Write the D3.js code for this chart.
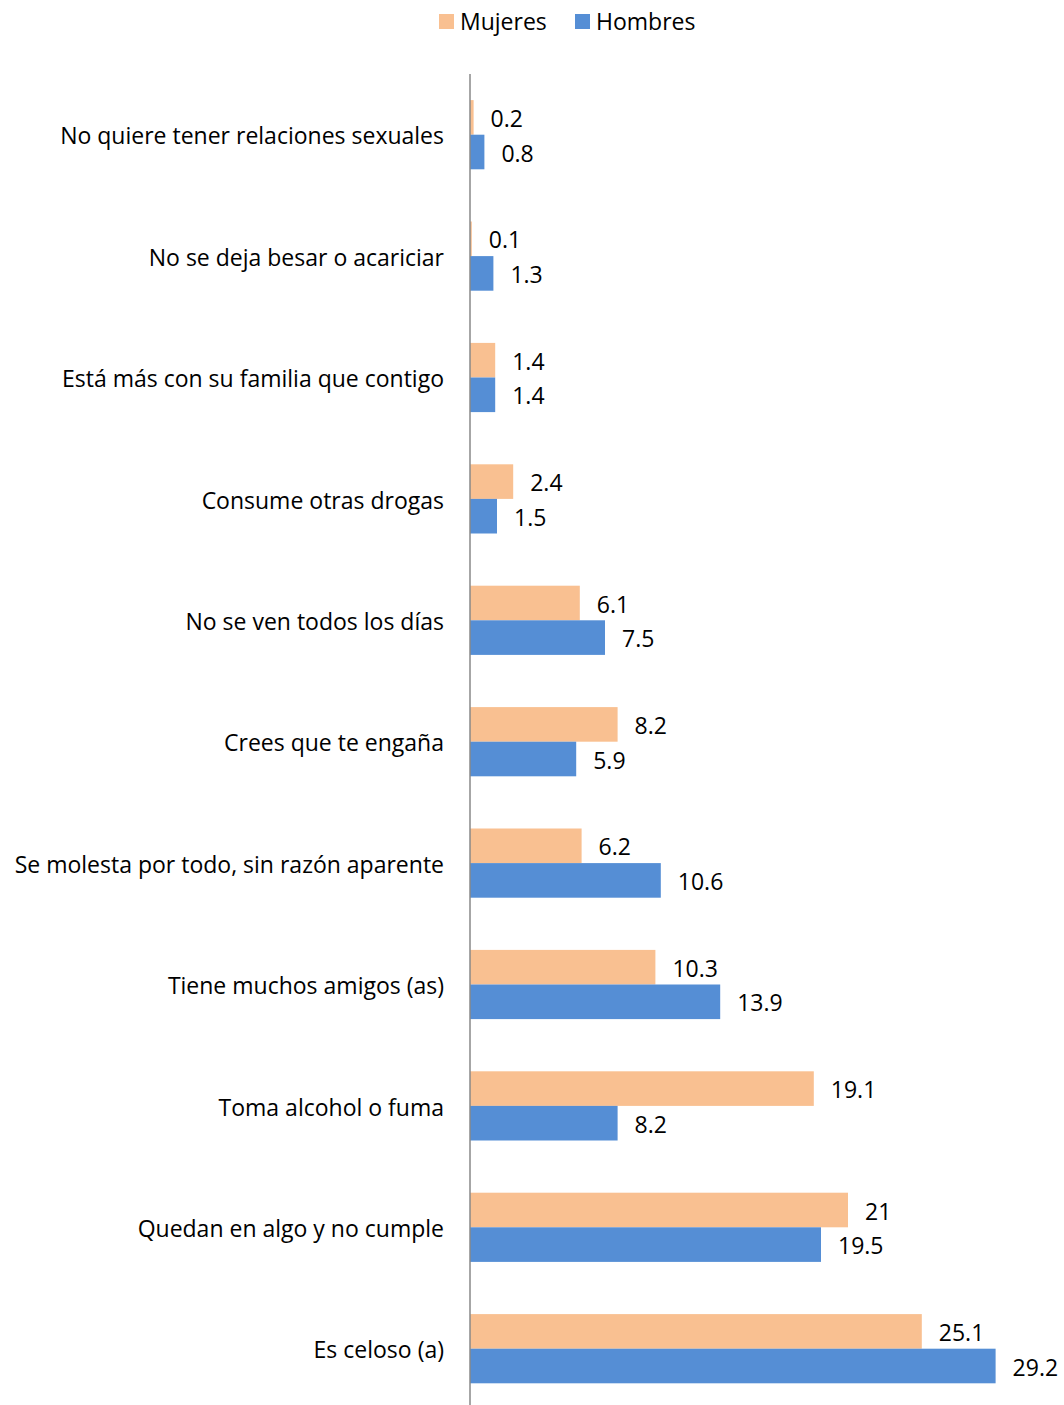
<!DOCTYPE html>
<html>
<head>
<meta charset="utf-8">
<script src="https://cdn.jsdelivr.net/npm/d3@7"></script>
<style>
  body { margin: 0; background: #fff; }
  svg text { font-family: "Open Sans", sans-serif; fill: #000; }
</style>
</head>
<body>
<div id="chart"></div>
<script>
// data
const categories = [
    "No quiere tener relaciones sexuales",
    "No se deja besar o acariciar",
    "Está más con su familia que contigo",
    "Consume otras drogas",
    "No se ven todos los días",
    "Crees que te engaña",
    "Se molesta por todo, sin razón aparente",
    "Tiene muchos amigos (as)",
    "Toma alcohol o fuma",
    "Quedan en algo y no cumple",
    "Es celoso (a)"
];
const mujeres = [0.2, 0.1, 1.4, 2.4, 6.1, 8.2, 6.2, 10.3, 19.1, 21, 25.1];
const hombres = [0.8, 1.3, 1.4, 1.5, 7.5, 5.9, 10.6, 13.9, 8.2, 19.5, 29.2];
const seriesNames = ["Mujeres", "Hombres"];
const colors = ["#F9C091", "#558ED5"];

const width = 1064, height = 1405;
const margin = ({ top: 74, right: 54, bottom: 0, left: 470 });
const fontSize = "23px";

const svg = d3.select("#chart").append("svg")
    .attr("width", width)
    .attr("height", height);

const x = d3.scaleLinear()
    .domain([0, 30])
    .range([margin.left, width - margin.right]);

const y = d3.scaleBand()
    .domain(categories)
    .range([margin.top, margin.top + 121.4 * categories.length])
    .paddingInner(0.43)
    .paddingOuter(0.215);

const sub = d3.scaleBand()
    .domain(seriesNames)
    .range([0, y.bandwidth()]);

const rows = categories.map((c, i) => ({ cat: c, values: [mujeres[i], hombres[i]] }));

const groups = svg.selectAll("g.row")
    .data(rows)
    .join("g")
    .attr("class", "row")
    .attr("transform", d => "translate(0," + y(d.cat) + ")");

groups.selectAll("rect")
    .data(d => d.values.map((v, j) => ({ name: seriesNames[j], v: v, j: j })))
    .join("rect")
    .attr("x", x(0))
    .attr("y", d => sub(d.name))
    .attr("width", d => x(d.v) - x(0))
    .attr("height", sub.bandwidth())
    .attr("fill", d => colors[d.j]);

groups.selectAll("text.val")
    .data(d => d.values.map((v, j) => ({ name: seriesNames[j], v: v })))
    .join("text")
    .attr("class", "val")
    .attr("x", d => x(d.v) + 17)
    .attr("y", d => sub(d.name) + sub.bandwidth() / 2)
    .attr("dy", "0.42em")
    .style("font-size", fontSize)
    .text(d => d.v);

// category labels
const yAxis = d3.axisLeft(y).tickSize(0).tickPadding(26);
const ag = svg.append("g")
    .attr("transform", "translate(" + x(0) + ",0)")
    .call(yAxis);
ag.select(".domain").remove();
ag.selectAll("text")
    .attr("dy", "0.42em")
    .style("font-size", fontSize)
    .attr("font-family", null);

// vertical axis line
svg.append("line")
    .attr("x1", x(0)).attr("x2", x(0))
    .attr("y1", margin.top).attr("y2", height)
    .attr("stroke", "#898989")
    .attr("stroke-width", 1.5);

// legend
const legend = svg.append("g").attr("transform", "translate(439,14)");
const legX = [0, 136];
seriesNames.forEach((n, i) => {
    legend.append("rect")
        .attr("x", legX[i]).attr("y", 0)
        .attr("width", 15).attr("height", 15)
        .attr("fill", colors[i]);
    legend.append("text")
        .attr("x", legX[i] + 21).attr("y", 7.5)
        .attr("dy", "0.35em")
        .style("font-size", fontSize)
        .text(n);
});
</script>
</body>
</html>
